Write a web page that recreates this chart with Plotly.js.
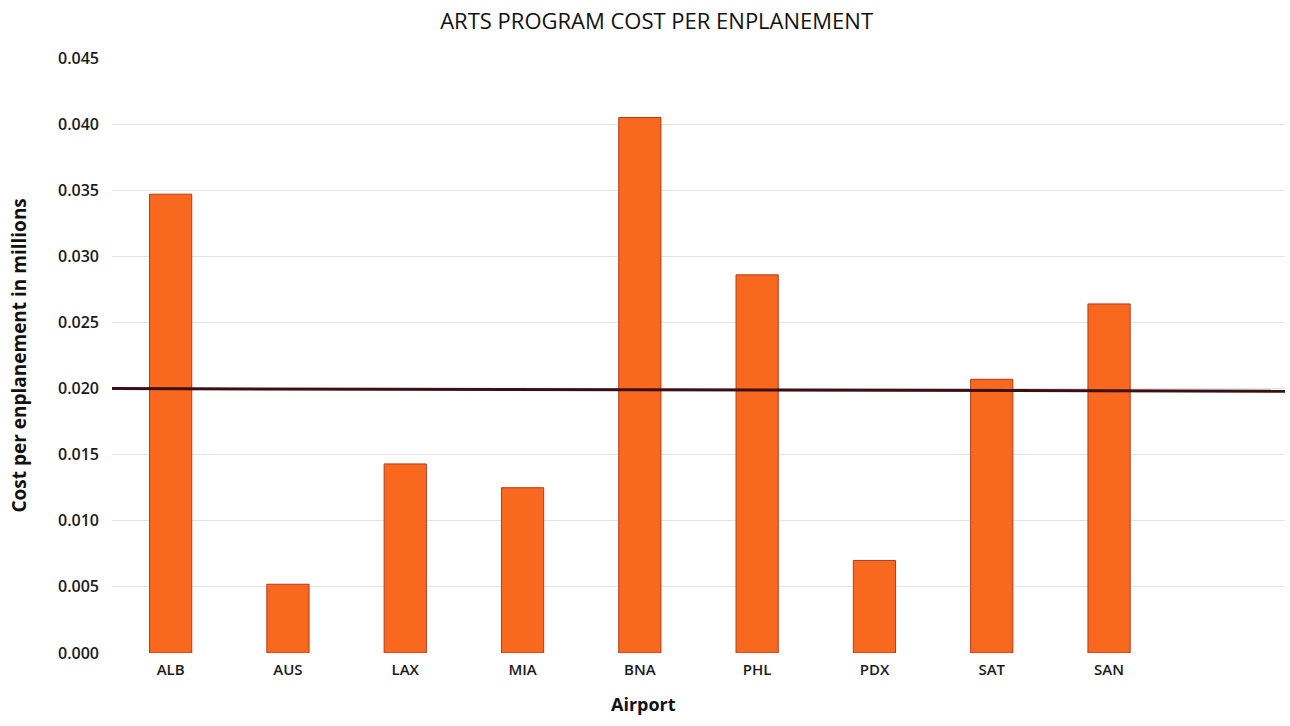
<!DOCTYPE html>
<html>
<head>
<meta charset="utf-8">
<script src="https://cdn.plot.ly/plotly-3.0.1.min.js"></script>
<style>html,body{margin:0;padding:0;background:#fff;}#chart{width:1290px;height:726px;}</style>
</head>
<body>
<div id="chart"></div>
<script>
const airports = ["ALB", "AUS", "LAX", "MIA", "BNA", "PHL", "PDX", "SAT", "SAN"];
const costPerEnplanement = [0.0347, 0.0052, 0.0143, 0.0125, 0.0405, 0.0286, 0.0070, 0.0207, 0.0264];
const benchmark = [0.0200];
const yTicks = [0, 0.005, 0.010, 0.015, 0.020, 0.025, 0.030, 0.035, 0.040, 0.045];
const yTickLabels = ["0.000", "0.005", "0.010", "0.015", "0.020", "0.025", "0.030", "0.035", "0.040", "0.045"];

const font = "Open Sans, Noto Sans, sans-serif";

const data = [{
  type: "bar",
  x: airports,
  y: costPerEnplanement,
  width: 0.36,
  marker: {color: "#f8681f", line: {color: "#b8381c", width: 1}},
  hoverinfo: "x+y"
}];

const layout = {
  width: 1290, height: 726,
  paper_bgcolor: "#ffffff", plot_bgcolor: "#ffffff",
  margin: {l: 112, r: 5, t: 58, b: 73},
  showlegend: false,
  title: {text: "ARTS PROGRAM COST PER ENPLANEMENT", font: {family: font, size: 22, color: "#111"},
          xref: "container", x: 0.509, xanchor: "center", yref: "container", y: 0.971, yanchor: "middle"},
  xaxis: {
    type: "category", range: [-0.5, 9.5],
    showgrid: false, zeroline: false, showline: false, ticks: "",
    tickfont: {family: font, size: 15, color: "#1a1a1a", weight: 600},
    ticklabelstandoff: 6
  },
  yaxis: {
    range: [0, 0.045], tickvals: yTicks, ticktext: yTickLabels,
    showgrid: true, gridcolor: "#e4e4e4", gridwidth: 1, zeroline: false, showline: false,
    tickfont: {family: font, size: 16, color: "#1a1a1a", weight: 600},
    ticklabelstandoff: 12
  },
  shapes: benchmark.map(v => ({
    type: "line", xref: "paper", x0: 0, x1: 1, yref: "y", y0: v, y1: v - 0.0002,
    line: {color: "#3a1014", width: 3}
  })),
  annotations: [{
    text: "Airport", xref: "paper", x: 0.4527, yref: "paper", y: -0.0857, yanchor: "middle",
    showarrow: false, font: {family: font, size: 18, color: "#111", weight: 700}
  }, {
    text: "Cost per enplanement in millions", textangle: -90,
    xref: "paper", x: -0.0801, xanchor: "center", yref: "paper", y: 0.5, yanchor: "middle",
    showarrow: false, font: {family: font, size: 19, color: "#111", weight: 700}
  }]
};

Plotly.newPlot("chart", data, layout, {displayModeBar: false, staticPlot: true});
</script>
</body>
</html>
